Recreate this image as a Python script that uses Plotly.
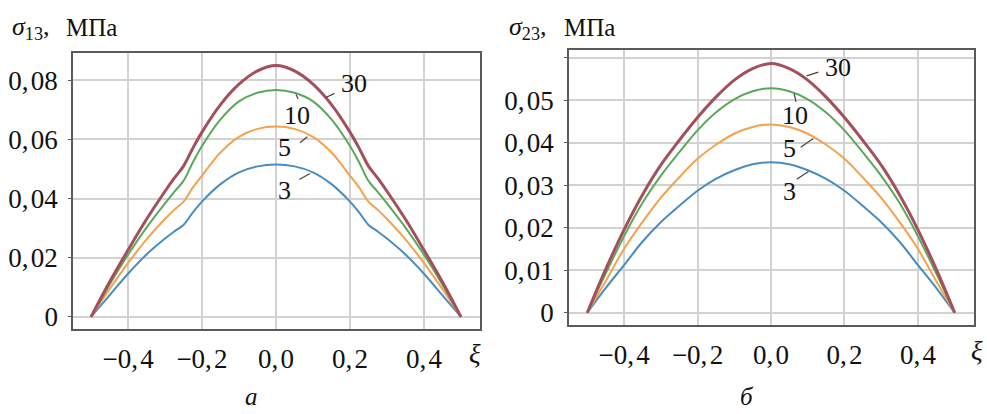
import plotly.graph_objects as go

# ---- data ----
# panel a: sigma_13 (extra samples around the kinks at xi = ±0.25)
xi_a = [-0.5, -0.45, -0.4, -0.35, -0.3, -0.275, -0.25, -0.225, -0.2, -0.15, -0.1, -0.05, 0.0,
        0.05, 0.1, 0.15, 0.2, 0.225, 0.25, 0.275, 0.3, 0.35, 0.4, 0.45, 0.5]
s13_n3 = [0, 0.0073, 0.0146, 0.0211, 0.0265, 0.0289, 0.0311, 0.0353, 0.0390, 0.0449, 0.0489, 0.0509, 0.0515,
          0.0509, 0.0489, 0.0449, 0.0390, 0.0353, 0.0311, 0.0289, 0.0265, 0.0211, 0.0146, 0.0073, 0]
s13_n5 = [0, 0.0094, 0.0182, 0.0262, 0.0331, 0.0362, 0.0390, 0.0437, 0.0478, 0.0556, 0.0609, 0.0636, 0.0644,
          0.0636, 0.0609, 0.0556, 0.0478, 0.0437, 0.0390, 0.0362, 0.0331, 0.0262, 0.0182, 0.0094, 0]
s13_n10 = [0, 0.0109, 0.0210, 0.0302, 0.0384, 0.0423, 0.0460, 0.0522, 0.0578, 0.0668, 0.0729, 0.0758, 0.0767,
           0.0758, 0.0729, 0.0668, 0.0578, 0.0522, 0.0460, 0.0423, 0.0384, 0.0302, 0.0210, 0.0109, 0]
s13_n30 = [0, 0.0118, 0.0226, 0.0330, 0.0425, 0.0469, 0.0510, 0.0570, 0.0625, 0.0718, 0.0787, 0.0832, 0.0850,
           0.0832, 0.0787, 0.0718, 0.0625, 0.0570, 0.0510, 0.0469, 0.0425, 0.0330, 0.0226, 0.0118, 0]

# panel b: sigma_23
xi_b = [-0.5, -0.45, -0.4, -0.35, -0.3, -0.25, -0.2, -0.15, -0.1, -0.05, 0.0,
        0.05, 0.1, 0.15, 0.2, 0.25, 0.3, 0.35, 0.4, 0.45, 0.5]
s23_n3 = [0, 0.0058, 0.0112, 0.0167, 0.0213, 0.0251, 0.0287, 0.0315, 0.0335, 0.0349, 0.0354,
          0.0349, 0.0335, 0.0315, 0.0287, 0.0251, 0.0213, 0.0167, 0.0112, 0.0058, 0]
s23_n5 = [0, 0.0074, 0.0150, 0.0213, 0.0270, 0.0318, 0.0362, 0.0395, 0.0421, 0.0437, 0.0443,
          0.0437, 0.0421, 0.0395, 0.0362, 0.0318, 0.0270, 0.0213, 0.0150, 0.0074, 0]
s23_n10 = [0, 0.0092, 0.0180, 0.0258, 0.0322, 0.0377, 0.0429, 0.0471, 0.0502, 0.0521, 0.0528,
           0.0521, 0.0502, 0.0471, 0.0429, 0.0377, 0.0322, 0.0258, 0.0180, 0.0092, 0]
s23_n30 = [0, 0.0102, 0.0195, 0.0277, 0.0347, 0.0405, 0.0459, 0.0507, 0.0547, 0.0574, 0.0586,
           0.0574, 0.0547, 0.0507, 0.0459, 0.0405, 0.0347, 0.0277, 0.0195, 0.0102, 0]

series_names = ["3", "5", "10", "30"]

HS = "\u200a"  # hair space after the decimal comma
x_tickvals = [-0.4, -0.2, 0.0, 0.2, 0.4]
x_ticktext = ["−0," + HS + "4", "−0," + HS + "2", "0," + HS + "0", "0," + HS + "2", "0," + HS + "4"]
y1_tickvals = [0, 0.02, 0.04, 0.06, 0.08]
y1_ticktext = ["0", "0," + HS + "02", "0," + HS + "04", "0," + HS + "06", "0," + HS + "08"]
y2_tickvals = [0, 0.01, 0.02, 0.03, 0.04, 0.05, 0.06]
y2_ticktext = ["0", "0," + HS + "01", "0," + HS + "02", "0," + HS + "03", "0," + HS + "04",
               "0," + HS + "05", " "]

# curve label positions (data coords) and leader lines
lab_a = {"30": (0.211, 0.0788), "10": (0.056, 0.0682), "5": (0.022, 0.0573), "3": (0.022, 0.0427)}
lead_a = {"30": (0.135, 0.0742, 0.158, 0.0756), "10": (0.054, 0.0752, 0.060, 0.0737),
          "5": (0.065, 0.0589, 0.085, 0.0609), "3": (0.063, 0.0465, 0.092, 0.0485)}
lab_b = {"30": (0.183, 0.0576), "10": (0.065, 0.0464), "5": (0.050, 0.0387), "3": (0.050, 0.0286)}
lead_b = {"30": (0.097, 0.0557, 0.129, 0.0566), "10": (0.063, 0.0515, 0.068, 0.0496),
          "5": (0.081, 0.0389, 0.115, 0.0410), "3": (0.070, 0.0314, 0.102, 0.0332)}

colors = {"3": "#4a8cc0", "5": "#f4a24c", "10": "#5aa85a", "30": "#a4505c"}
widths = {"3": 2, "5": 2, "10": 2, "30": 3}

FONT = "Liberation Serif, Times New Roman, Times, serif"

fig = go.Figure()
data_a = {"3": s13_n3, "5": s13_n5, "10": s13_n10, "30": s13_n30}
data_b = {"3": s23_n3, "5": s23_n5, "10": s23_n10, "30": s23_n30}
for n in series_names:
    fig.add_trace(go.Scatter(x=xi_a, y=data_a[n], mode="lines", xaxis="x", yaxis="y",
                             line=dict(color=colors[n], width=widths[n], shape="spline", smoothing=1.0),
                             showlegend=False, hoverinfo="skip"))
for n in series_names:
    fig.add_trace(go.Scatter(x=xi_b, y=data_b[n], mode="lines", xaxis="x2", yaxis="y2",
                             line=dict(color=colors[n], width=widths[n], shape="spline", smoothing=1.0),
                             showlegend=False, hoverinfo="skip"))

axis_common = dict(showline=True, mirror=True, linecolor="#5a5a5a", linewidth=1.5,
                   showgrid=True, gridcolor="#d2d2d2", gridwidth=1.5, zeroline=False,
                   tickfont=dict(family=FONT, size=27, color="#111"))

fig.update_layout(
    width=987, height=414, margin=dict(l=0, r=0, t=0, b=0),
    paper_bgcolor="white", plot_bgcolor="white",
    font=dict(family=FONT),
    xaxis=dict(domain=[0.0740, 0.4863], range=[-0.5486, 0.5514], anchor="y",
               tickvals=x_tickvals, ticktext=x_ticktext, ticks="", ticklabelstandoff=5, **axis_common),
    yaxis=dict(domain=[0.2029, 0.8865], range=[-0.0041, 0.0893], anchor="x",
               tickvals=y1_tickvals, ticktext=y1_ticktext, ticks="outside", ticklen=3,
               tickcolor="#5a5a5a", ticklabelstandoff=5, **axis_common),
    xaxis2=dict(domain=[0.5765, 0.9868], range=[-0.5497, 0.5524], anchor="y2",
                tickvals=x_tickvals, ticktext=x_ticktext, ticks="", ticklabelstandoff=5, **axis_common),
    yaxis2=dict(domain=[0.2126, 0.8937], range=[-0.0029, 0.0618], anchor="x2",
                tickvals=y2_tickvals, ticktext=y2_ticktext, ticks="outside", ticklen=3,
                tickcolor="#5a5a5a", ticklabelstandoff=5, **axis_common),
)

annotations = []
shapes = []
for labs, leads, xr, yr in [(lab_a, lead_a, "x", "y"), (lab_b, lead_b, "x2", "y2")]:
    for n in series_names:
        lx, ly = labs[n]
        annotations.append(dict(x=lx, y=ly, xref=xr, yref=yr, text=n, showarrow=False,
                                xanchor="center", yanchor="middle",
                                font=dict(family=FONT, size=26, color="#111")))
        x0, y0, x1, y1 = leads[n]
        shapes.append(dict(type="line", xref=xr, yref=yr, x0=x0, y0=y0, x1=x1, y1=y1,
                           line=dict(color="#444", width=1.2)))

# axis titles
def title(x_sigma, x_unit_right, sub):
    return [
        dict(x=x_sigma / 987, y=1 - 22 / 414, xref="paper", yref="paper", xanchor="left", yanchor="middle",
             text="<i>σ</i><sub>" + sub + "</sub>,", showarrow=False,
             font=dict(family=FONT, size=26, color="#111")),
        dict(x=x_unit_right / 987, y=1 - 21 / 414, xref="paper", yref="paper", xanchor="right",
             yanchor="middle", text="МПа", showarrow=False,
             font=dict(family=FONT, size=25, color="#111")),
    ]

annotations += title(10, 119, "13") + title(507, 617, "23")
annotations += [
    dict(x=475 / 987, y=1 - 356 / 414, xref="paper", yref="paper", xanchor="center", yanchor="middle",
         text="<i>ξ</i>", showarrow=False, font=dict(family=FONT, size=27, color="#111")),
    dict(x=977 / 987, y=1 - 353 / 414, xref="paper", yref="paper", xanchor="center", yanchor="middle",
         text="<i>ξ</i>", showarrow=False, font=dict(family=FONT, size=27, color="#111")),
    dict(x=251 / 987, y=1 - 399 / 414, xref="paper", yref="paper", xanchor="center", yanchor="middle",
         text="<i>а</i>", showarrow=False, font=dict(family=FONT, size=25, color="#111")),
    dict(x=747 / 987, y=1 - 399 / 414, xref="paper", yref="paper", xanchor="center", yanchor="middle",
         text="<i>б</i>", showarrow=False, font=dict(family=FONT, size=25, color="#111")),
]
fig.update_layout(annotations=annotations, shapes=shapes)

fig.write_html("out.html", config={"displayModeBar": False},
               post_script="document.body.style.margin='0';document.body.style.overflow='hidden';")
